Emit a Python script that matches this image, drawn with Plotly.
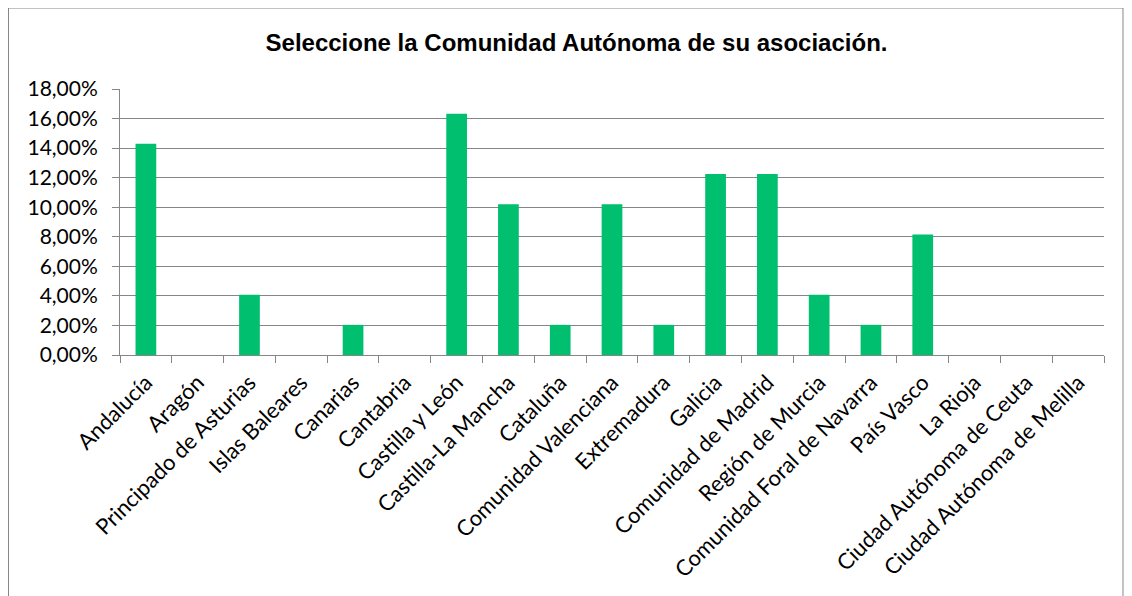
import plotly.graph_objects as go

# data
regiones = [
    "Andalucía", "Aragón", "Principado de Asturias", "Islas Baleares", "Canarias",
    "Cantabria", "Castilla y León", "Castilla-La Mancha", "Cataluña",
    "Comunidad Valenciana", "Extremadura", "Galicia", "Comunidad de Madrid",
    "Región de Murcia", "Comunidad Foral de Navarra", "País Vasco", "La Rioja",
    "Ciudad Autónoma de Ceuta", "Ciudad Autónoma de Melilla",
]
porcentajes = [
    0.1429, 0.0, 0.0408, 0.0, 0.0204,
    0.0, 0.1633, 0.1020, 0.0204,
    0.1020, 0.0204, 0.1224, 0.1224,
    0.0408, 0.0204, 0.0816, 0.0,
    0.0, 0.0,
]
y_ticks = [i * 0.02 for i in range(10)]
y_labels = [f"{v * 100:.2f}%".replace(".", ",") for v in y_ticks]

fig = go.Figure()
fig.add_trace(go.Bar(x=regiones, y=porcentajes, marker=dict(color="#00BF6F", line=dict(width=0))))

# page body adds an 8px margin, so the figure is a bit smaller than the window
fig.update_layout(
    width=1124, height=588,
    margin=dict(l=112, r=28, t=81, b=241),
    paper_bgcolor="white", plot_bgcolor="white",
    bargap=0.6,
    showlegend=False,
    font=dict(family="Lato, Open Sans, sans-serif", color="black"),
    title=dict(text="<b>Seleccione la Comunidad Autónoma de su asociación.</b>",
               x=0.5058, xanchor="center", y=0.942, yanchor="middle",
               font=dict(family="Liberation Sans, Arial", size=24, color="black")),
)
fig.update_xaxes(
    tickangle=-45, tickfont=dict(size=22), tickson="boundaries",
    ticks="outside", ticklen=7, tickcolor="#868686", ticklabelstandoff=5,
    showline=True, linecolor="#868686", linewidth=1, showgrid=False,
)
fig.update_yaxes(
    range=[0, 0.18], tickvals=y_ticks, ticktext=y_labels, tickfont=dict(size=21),
    ticks="outside", ticklen=7, tickcolor="#868686", ticklabelstandoff=10,
    showline=True, linecolor="#868686", linewidth=1,
    showgrid=True, gridcolor="#868686", gridwidth=1, zeroline=False,
)
# chart border
fig.add_shape(type="rect", xref="paper", yref="paper",
              x0=-0.1133, x1=1.0193, y0=-1.2, y1=1.3045,
              line=dict(color="#868686", width=1))

fig.write_html("out.html")
